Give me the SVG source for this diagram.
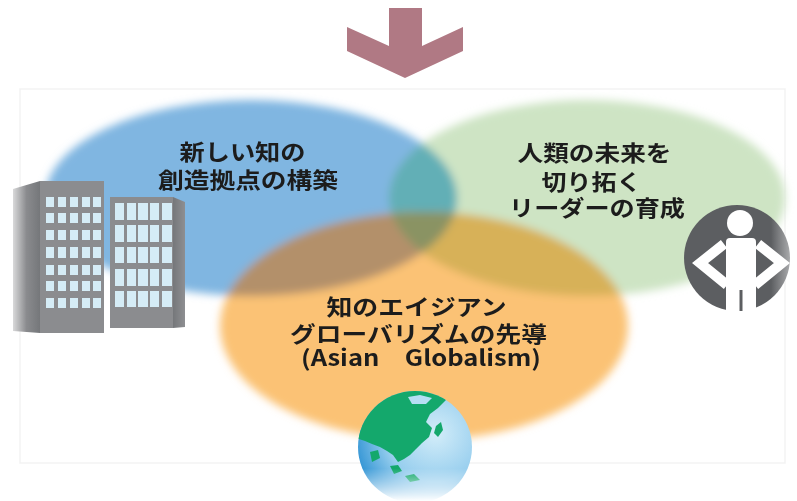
<svg xmlns="http://www.w3.org/2000/svg" width="797" height="501" viewBox="0 0 797 501">
  <style>
    .lbl{font-family:"Noto Sans CJK JP","Noto Sans",sans-serif;font-weight:700;font-size:22px;fill:#1c1c1c;text-anchor:middle;}
    .win{fill:#d5ecf6;}
    .front{fill:#8b8c8f;}
  </style>
  <defs>
    <filter id="soft" x="-10%" y="-15%" width="120%" height="130%">
      <feGaussianBlur stdDeviation="4.5"/>
    </filter>
    <clipPath id="cBlue"><ellipse cx="251" cy="198" rx="206" ry="98"/></clipPath>
    <clipPath id="cGreen"><ellipse cx="587" cy="198" rx="198" ry="98"/></clipPath>
    <clipPath id="cGlobe"><ellipse cx="415" cy="447" rx="57" ry="56"/></clipPath>
    <radialGradient id="sea" cx="0.68" cy="0.38" r="0.72">
      <stop offset="0" stop-color="#d3edf9"/>
      <stop offset="0.6" stop-color="#97ceee"/>
      <stop offset="1" stop-color="#3596d5"/>
    </radialGradient>
    <linearGradient id="fadeBottom" x1="0" y1="0" x2="0" y2="1">
      <stop offset="0" stop-color="#fff"/>
      <stop offset="0.72" stop-color="#fff"/>
      <stop offset="1" stop-color="#000"/>
    </linearGradient>
    <mask id="globeMask" maskUnits="userSpaceOnUse" x="350" y="385" width="130" height="116">
      <rect x="350" y="385" width="130" height="116" fill="url(#fadeBottom)"/>
    </mask>
    <linearGradient id="sideL" x1="0" y1="0" x2="1" y2="0">
      <stop offset="0" stop-color="#d9d9da"/>
      <stop offset="0.5" stop-color="#8a8b8e"/>
      <stop offset="1" stop-color="#75777a"/>
    </linearGradient>
    <linearGradient id="sideR" x1="0" y1="0" x2="1" y2="0">
      <stop offset="0" stop-color="#75777a"/>
      <stop offset="1" stop-color="#8e8f92"/>
    </linearGradient>
    <linearGradient id="disc" x1="0" y1="0" x2="1" y2="0">
      <stop offset="0" stop-color="#5c5e61"/>
      <stop offset="0.82" stop-color="#5c5e61"/>
      <stop offset="1" stop-color="#a9aaac"/>
    </linearGradient>
  </defs>

  <!-- faint outer frame -->
  <rect x="20" y="89" width="765" height="374" fill="none" stroke="#f3f3f3" stroke-width="1.5"/>

  <!-- down arrow -->
  <g id="arrow">
    <polygon points="389,8 422,8 422,46 463,27 463,51 405,78 347,51 347,27 389,46" fill="#b07984"/>
  </g>

  <!-- three overlapping soft ellipses -->
  <g id="venn" filter="url(#soft)">
    <ellipse cx="251" cy="198" rx="206" ry="98" fill="#80b6e1"/>
    <ellipse cx="587" cy="198" rx="198" ry="98" fill="#cee4c4"/>
    <ellipse cx="587" cy="198" rx="198" ry="98" fill="#62afb6" clip-path="url(#cBlue)"/>
    <ellipse cx="424" cy="326" rx="204" ry="114" fill="#fbc274"/>
    <ellipse cx="424" cy="326" rx="204" ry="114" fill="#b3906a" clip-path="url(#cBlue)"/>
    <ellipse cx="424" cy="326" rx="204" ry="114" fill="#d7b158" clip-path="url(#cGreen)"/>
    <g clip-path="url(#cGreen)">
      <ellipse cx="424" cy="326" rx="204" ry="114" fill="#8a9364" clip-path="url(#cBlue)"/>
    </g>
  </g>

  <!-- office buildings -->
  <g id="buildings">
    <polygon points="13,189 40,181 40,333 13,331" fill="url(#sideL)"/>
    <rect class="front" x="40" y="181" width="64" height="152"/>
    <g class="win">
      <rect x="46" y="197" width="8" height="10"/><rect x="58" y="197" width="8" height="10"/><rect x="70" y="197" width="8" height="10"/><rect x="82" y="197" width="8" height="10"/><rect x="93" y="197" width="8" height="10"/>
      <rect x="46" y="213" width="8" height="10"/><rect x="58" y="213" width="8" height="10"/><rect x="70" y="213" width="8" height="10"/><rect x="82" y="213" width="8" height="10"/><rect x="93" y="213" width="8" height="10"/>
      <rect x="46" y="230" width="8" height="10"/><rect x="58" y="230" width="8" height="10"/><rect x="70" y="230" width="8" height="10"/><rect x="82" y="230" width="8" height="10"/><rect x="93" y="230" width="8" height="10"/>
      <rect x="46" y="247" width="8" height="11"/><rect x="58" y="247" width="8" height="11"/><rect x="70" y="247" width="8" height="11"/><rect x="82" y="247" width="8" height="11"/><rect x="93" y="247" width="8" height="11"/>
      <rect x="46" y="265" width="8" height="10"/><rect x="58" y="265" width="8" height="10"/><rect x="70" y="265" width="8" height="10"/><rect x="82" y="265" width="8" height="10"/><rect x="93" y="265" width="8" height="10"/>
      <rect x="46" y="281" width="8" height="10"/><rect x="58" y="281" width="8" height="10"/><rect x="70" y="281" width="8" height="10"/><rect x="82" y="281" width="8" height="10"/><rect x="93" y="281" width="8" height="10"/>
      <rect x="46" y="298" width="8" height="10"/><rect x="58" y="298" width="8" height="10"/><rect x="70" y="298" width="8" height="10"/><rect x="82" y="298" width="8" height="10"/><rect x="93" y="298" width="8" height="10"/>
    </g>
    <rect class="front" x="110" y="197" width="63" height="131"/>
    <polygon points="173,197 185,202 185,327 173,328" fill="url(#sideR)"/>
    <g class="win">
      <rect x="115" y="203" width="9" height="17"/><rect x="127" y="203" width="9" height="17"/><rect x="138" y="203" width="10" height="17"/><rect x="150" y="203" width="9" height="17"/><rect x="162" y="203" width="10" height="17"/>
      <rect x="115" y="225" width="9" height="17"/><rect x="127" y="225" width="9" height="17"/><rect x="138" y="225" width="10" height="17"/><rect x="150" y="225" width="9" height="17"/><rect x="162" y="225" width="10" height="17"/>
      <rect x="115" y="247" width="9" height="16"/><rect x="127" y="247" width="9" height="16"/><rect x="138" y="247" width="10" height="16"/><rect x="150" y="247" width="9" height="16"/><rect x="162" y="247" width="10" height="16"/>
      <rect x="115" y="269" width="9" height="17"/><rect x="127" y="269" width="9" height="17"/><rect x="138" y="269" width="10" height="17"/><rect x="150" y="269" width="9" height="17"/><rect x="162" y="269" width="10" height="17"/>
      <rect x="115" y="291" width="9" height="16"/><rect x="127" y="291" width="9" height="16"/><rect x="138" y="291" width="10" height="16"/><rect x="150" y="291" width="9" height="16"/><rect x="162" y="291" width="10" height="16"/>
    </g>
  </g>

  <!-- person icon -->
  <g id="person">
    <circle cx="737" cy="258" r="53" fill="url(#disc)"/>
    <circle cx="740" cy="223" r="13" fill="#fff"/>
    <rect x="726" y="238" width="30" height="80" rx="4" fill="#fff"/>
    <polyline points="724,244 700,263 727,285" fill="none" stroke="#fff" stroke-width="10" stroke-linejoin="miter"/>
    <polyline points="758,244 782,263 755,285" fill="none" stroke="#fff" stroke-width="10" stroke-linejoin="miter"/>
    <line x1="741" y1="290" x2="741" y2="311" stroke="#5c5e61" stroke-width="3"/>
  </g>

  <!-- globe with Asia facing -->
  <g id="globe" mask="url(#globeMask)">
    <ellipse cx="415" cy="447" rx="57" ry="56" fill="url(#sea)"/>
    <g clip-path="url(#cGlobe)" fill="#14a86c">
      <path d="M350,392 L398,388 L442,390 L446,400 L438,408 L430,414 L426,422 L432,428 L429,437 L422,443 L416,449 L410,455 L404,459 L398,462 L393,455 L387,451 L380,447 L372,444 L365,441 L350,436 Z"/>
      <path d="M408,397 L420,395 L432,398 L426,404 L412,404 Z" fill="#b6def3"/>
      <path d="M436,426 L441,422 L443,430 L438,437 L434,433 Z"/>
      <path d="M370,452 L378,450 L380,458 L372,462 Z"/>
      <path d="M390,466 L398,465 L402,471 L394,474 Z"/>
      <path d="M405,476 L414,474 L420,480 L410,482 Z"/>
    </g>
  </g>

  <!-- labels -->
  <text id="label-blue" class="lbl">
    <tspan x="245" y="160" textLength="126" lengthAdjust="spacingAndGlyphs">新しい知の</tspan>
    <tspan x="248" y="188" textLength="180" lengthAdjust="spacingAndGlyphs">創造拠点の構築</tspan>
  </text>
  <text id="label-green" class="lbl">
    <tspan x="597" y="161" textLength="154" lengthAdjust="spacingAndGlyphs">人類の未来を</tspan>
    <tspan x="594" y="190" textLength="100" lengthAdjust="spacingAndGlyphs">切り拓く</tspan>
    <tspan x="597" y="216" textLength="176" lengthAdjust="spacingAndGlyphs">リーダーの育成</tspan>
  </text>
  <text id="label-orange" class="lbl">
    <tspan x="419" y="315" textLength="180" lengthAdjust="spacingAndGlyphs">知のエイジアン</tspan>
    <tspan x="421" y="342" textLength="257" lengthAdjust="spacingAndGlyphs">グローバリズムの先導</tspan>
    <tspan x="421" y="366" textLength="240" lengthAdjust="spacingAndGlyphs">(Asian　Globalism)</tspan>
  </text>
</svg>
